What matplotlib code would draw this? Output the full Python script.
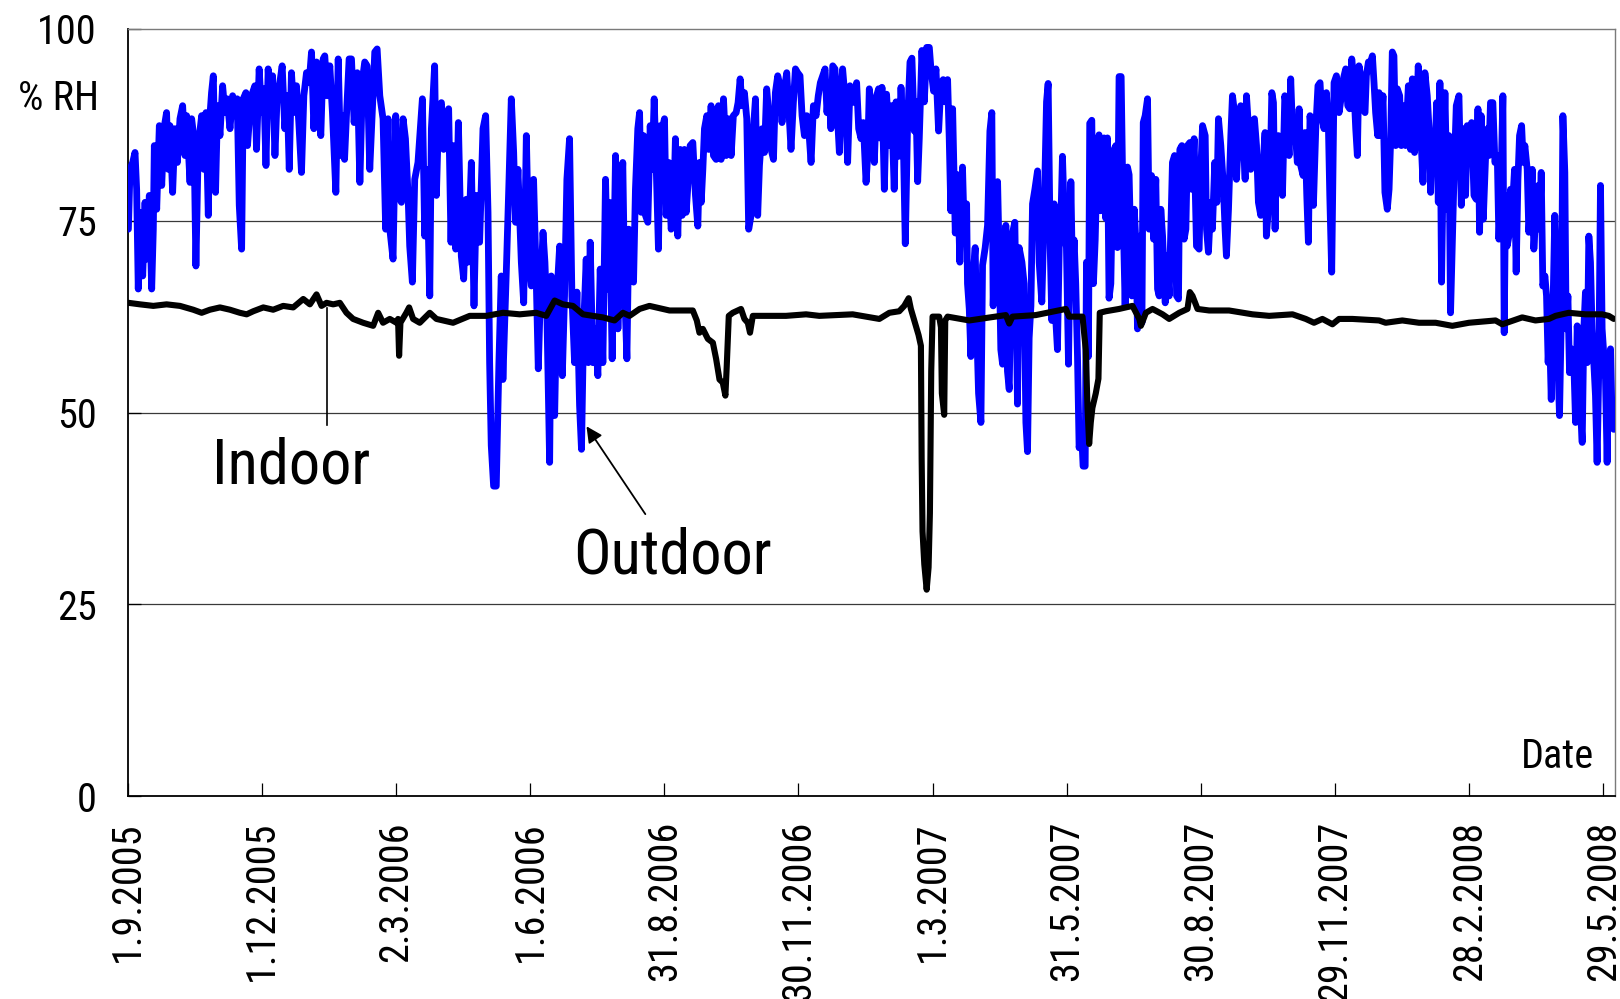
import matplotlib
matplotlib.use('Agg')
import matplotlib.pyplot as plt
from matplotlib import font_manager

# ---------------- data (day 0 = 1.9.2005) ----------------
outdoor_seg1 = [(0.6,73.9),(1.7,81.7),(3.5,82.6),(5.1,83.9),(6.2,79.1),(7.3,66.1),(8.5,76.1),(10.3,67.8),(11.9,77.4),(13.0,70.0),(14.8,78.3),(16.4,66.1),(17.5,73.9),(18.2,84.8),(19.8,76.5),(21.6,87.4),(23.2,79.6),(24.7,87.0),(26.5,89.1),(27.7,81.7),(28.8,87.4),(30.6,78.7),(32.2,87.0),(33.8,82.6),(35.6,88.3),(37.4,90.0),(39.0,83.5),(40.1,88.7),(42.4,80.0),(43.5,88.3),(45.1,85.7),(46.4,69.1),(48.0,84.8),(50.3,88.7),(51.8,81.7),(53.2,89.1),(54.8,75.7),(55.9,88.7),(57.0,91.7),(58.2,93.9),(59.7,78.7),(61.1,90.0),(62.7,86.1),(64.5,92.6),(66.1,89.1),(67.6,90.9),(69.5,87.0),(71.3,91.3),(72.8,88.7),(74.4,90.9),(75.8,77.0),(77.4,71.3),(78.5,90.9),(80.3,91.7),(81.4,84.8),(83.0,89.1),(84.8,91.7),(86.4,92.6),(87.5,84.3),(89.3,94.8),(90.9,89.1),(92.5,92.2),(93.9,82.2),(95.4,94.8),(97.0,89.1),(98.4,93.9),(100.0,83.5),(101.5,91.3),(103.3,93.0),(104.9,95.2),(106.7,87.0),(108.3,91.3),(109.7,81.7),(111.2,94.3),(112.8,89.1),(114.6,92.6),(116.2,87.8),(118.0,81.3),(119.6,91.3),(121.4,94.3),(123.2,93.0),(124.8,97.0),(126.4,87.0),(128.2,95.7),(130.0,88.7),(131.1,86.1),(132.7,96.1),(133.8,96.5),(135.4,91.3),(137.2,95.2),(139.0,89.1),(141.3,78.7),(142.9,96.1),(144.5,83.5),(145.8,88.7),(147.2,83.0),(148.5,88.7),(150.3,96.1),(151.9,96.1),(153.7,87.8),(155.8,94.3),(157.6,80.0),(159.4,93.5),(160.9,95.7),(162.5,95.2),(164.3,81.7),(166.1,89.6),(167.7,97.0),(169.3,97.4),(171.1,91.3)]

outdoor_seg2 = [(173.3,88.3),(175.1,73.9),(176.7,88.3),(177.9,73.9),(180.1,70.0),(181.9,88.7),(183.5,78.3),(185.8,77.4),(186.9,88.3),(188.5,85.7),(190.3,78.3),(191.4,71.7),(193.2,67.0),(194.8,80.4),(197.0,82.6),(200.0,90.9),(201.6,73.0),(203.1,81.7),(205.0,65.2),(206.1,87.0),(208.3,95.2),(209.5,78.3),(211.1,89.6),(212.9,90.4),(214.4,84.3),(216.3,87.0),(217.8,89.6),(219.4,72.2),(220.8,84.8),(222.6,71.3),(224.4,87.8),(226.4,70.4),(228.0,67.4),(229.8,77.8),(230.9,69.6),(233.2,82.6),(235.0,63.9),(236.6,78.3),(238.8,72.2),(241.1,87.0),(242.9,88.7),(244.5,76.1),(245.6,56.5),(246.7,45.7),(248.3,40.4),(250.1,40.4),(251.9,56.5),(253.5,67.8),(254.6,54.3),(256.9,68.3),(258.7,80.0),(260.3,90.9),(261.9,83.9),(263.2,74.8),(264.8,81.7),(267.1,69.6),(268.7,64.3),(270.5,86.1),(272.3,69.6),(273.9,66.5),(275.4,80.4),(277.2,67.4),(278.6,55.7),(280.0,65.2),(281.8,73.5),(283.1,69.6),(284.5,62.2),(286.3,43.5),(287.4,67.8),(288.5,60.9),(289.7,49.6),(291.2,65.2),(293.1,71.7),(294.9,54.8),(296.4,65.2),(298.0,80.4),(299.8,85.7),(301.4,65.2),(303.2,56.5),(304.8,65.7),(306.6,50.9),(307.9,45.2),(309.3,60.9),(311.1,70.0),(312.5,56.5),(313.8,72.2),(315.6,56.5),(317.2,60.9),(319.0,54.8),(320.6,68.7),(322.4,56.5),(324.2,80.4),(325.8,66.1),(326.9,77.4),(328.7,57.0),(331.0,83.5),(332.6,60.9),(334.2,73.9),(335.9,82.6),(337.3,65.2),(338.7,57.0),(340.0,73.9)]

outdoor_seg3 = [(341.6,71.7),(343.2,67.0),(344.5,79.1),(346.1,87.0),(347.3,89.1),(348.4,76.1),(350.0,86.1),(351.3,75.7),(352.9,74.8),(354.5,87.4),(355.8,81.7),(357.2,90.9),(358.5,82.6),(360.1,71.3),(361.3,87.4),(362.6,87.0),(364.2,88.3),(365.3,75.7),(367.1,82.6),(368.7,73.9),(370.3,75.7),(371.6,85.7),(373.2,73.0),(374.8,84.3),(376.2,75.7),(377.7,84.3),(378.9,76.1),(380.5,80.9),(381.6,84.8),(383.4,85.2),(385.2,78.3),(386.8,74.3),(387.9,82.6),(389.1,77.4),(390.2,81.7),(391.3,87.0),(392.9,88.7),(394.2,84.3),(395.8,90.0),(397.4,83.5),(399.2,83.0),(400.8,90.0),(402.6,83.0),(404.2,90.9),(406.0,83.5),(407.8,88.3),(409.4,83.5),(410.9,88.7),(412.8,89.1),(414.1,90.4),(415.5,93.5),(416.8,90.0),(418.4,91.7),(420.0,88.3),(421.3,73.9),(422.9,75.7),(424.5,87.0),(425.9,90.9),(427.4,75.7),(428.6,82.2),(430.4,87.0),(432.0,83.9),(433.5,92.2),(434.9,89.1),(436.5,84.3),(438.1,83.0),(439.4,91.7),(441.0,93.9),(442.1,93.0),(443.9,87.8),(445.5,92.2),(447.1,94.3),(448.5,89.6),(450.0,84.3),(451.6,90.4),(453.0,94.8),(454.5,94.3),(456.1,93.9),(457.5,88.7),(459.1,86.1),(460.7,88.7),(462.0,87.0),(463.6,82.6),(465.2,90.0),(467.0,88.7),(468.5,91.3),(469.9,93.0),(471.5,93.9),(473.1,94.8),(474.4,89.1),(475.6,92.6),(477.1,87.0),(478.3,95.2),(479.8,94.8),(481.2,89.6),(482.8,83.9),(483.9,91.3),(485.0,94.8),(486.9,90.4),(488.4,82.6),(490.0,92.6),(491.8,91.3),(493.2,90.4),(494.5,93.0),(495.9,87.0),(497.5,85.7),(499.0,87.8),(500.9,80.0),(502.0,83.5),(503.1,92.2),(504.7,89.1),(506.5,82.6),(508.1,91.3),(509.4,92.2)]

outdoor_seg4 = [(509.9,85.8),(511.7,92.4),(513.3,79.1),(514.8,91.5),(516.7,84.8),(518.2,90.0),(520.0,79.1),(521.2,90.5),(523.0,83.4),(524.6,92.4),(526.1,86.2),(527.5,72.0),(529.1,88.1),(530.7,95.7),(532.0,96.2),(533.6,86.7),(534.7,90.5),(535.9,80.1),(537.0,85.8),(538.8,97.2),(540.4,90.5),(542.0,97.6),(543.8,97.6),(544.9,94.8),(546.7,91.9),(548.3,94.8),(550.1,86.7),(551.7,92.9),(553.2,93.4),(554.6,90.5),(556.2,93.4),(557.3,85.8),(558.4,76.3),(559.6,89.6),(561.4,73.4),(563.0,81.0),(564.5,69.6),(566.3,82.0),(567.5,73.4),(569.1,77.2),(569.7,66.8),(570.9,63.5),(572.0,57.3),(573.1,66.8),(574.9,71.5),(575.8,62.0),(577.2,52.5),(578.8,48.7),(579.9,69.2),(581.7,71.5),(583.3,74.4),(584.9,86.7),(586.2,89.1),(587.1,63.9),(588.5,73.4),(590.1,80.1),(591.2,70.1),(592.3,58.2),(593.5,56.3),(594.6,66.8),(595.7,74.4),(596.8,55.4),(598.0,53.0),(599.1,66.8),(600.2,73.4),(601.8,74.8),(603.6,51.1),(604.7,71.5),(606.6,69.6),(608.1,66.8),(609.3,48.7),(610.4,44.9),(611.5,59.7),(612.7,63.9),(613.8,77.2),(615.4,79.1),(617.2,81.5),(618.3,69.6),(620.1,64.4),(621.7,76.3),(623.3,90.5),(624.4,92.9),(625.8,71.5),(626.9,62.0),(628.5,77.2),(629.6,62.0),(630.7,58.2),(631.9,71.5),(633.0,74.8),(634.1,83.4),(635.7,73.4),(636.8,71.5),(638.2,56.3),(639.8,80.1),(640.9,67.7),(642.0,72.5),(643.1,66.8),(644.3,57.3),(645.4,45.4),(647.0,47.8),(648.1,43.0),(649.5,43.0),(650.4,69.6),(651.7,57.3),(652.6,87.7),(654.0,88.1),(655.1,66.8),(656.3,72.5),(657.8,84.3),(658.9,86.2),(660.1,76.3),(661.2,80.1),(662.3,85.8),(663.5,75.3),(664.6,85.8),(665.7,64.9),(666.9,66.8),(668.0,79.1),(669.1,84.3),(670.3,84.8),(671.4,71.5),(672.5,93.8),(673.9,93.8),(675.2,76.3),(676.6,63.9),(678.2,82.0),(679.3,81.0)]

outdoor_seg5 = [(681.2,65.2),(682.8,76.5),(683.9,72.2),(685.0,60.9),(686.6,73.0),(688.0,61.7),(688.9,87.8),(690.2,88.7),(691.8,90.9),(692.9,73.9),(694.5,80.9),(695.9,72.6),(697.4,80.4),(698.6,66.1),(699.7,65.2),(700.8,76.5),(702.0,73.0),(703.8,64.3),(704.9,70.4),(706.5,65.2),(707.6,73.9),(708.7,82.6),(710.1,83.5),(711.5,65.2),(712.8,64.8),(713.7,84.3),(715.1,84.8),(716.6,72.6),(717.8,73.9),(718.9,84.8),(720.5,85.2),(721.8,79.1),(723.4,85.7),(725.0,71.7),(726.8,71.3),(727.9,81.3),(729.1,87.4),(730.9,86.1),(731.8,73.9),(733.1,70.9),(734.7,77.4),(735.8,73.9),(737.4,82.6),(738.8,77.4),(739.9,88.3),(741.5,84.8),(743.1,80.0),(744.4,73.9),(745.3,70.4),(746.7,76.5),(748.3,86.1),(749.4,91.3),(750.5,89.6),(752.1,80.4),(753.5,85.7),(755.0,90.0),(756.6,86.1),(758.0,80.4),(758.9,91.3),(760.2,87.4),(761.8,81.7),(763.0,87.8),(764.3,88.3),(765.7,84.8),(767.0,77.4),(768.6,75.7),(770.2,82.6),(771.5,86.5),(772.4,73.0),(773.6,76.1),(774.7,79.1),(776.1,91.7),(777.2,90.4),(778.3,73.9),(779.2,85.7),(780.6,86.1),(782.2,81.7),(783.3,78.3),(784.9,91.3),(786.2,89.6),(787.8,83.5),(788.9,93.5),(790.1,87.0),(791.6,87.8),(793.4,82.6),(794.6,89.6),(795.7,82.2),(797.3,80.9),(798.6,86.5),(799.8,78.3),(800.9,72.2),(802.0,88.7),(803.2,86.1),(804.3,77.0),(805.9,87.0),(807.4,92.6),(808.8,93.0),(809.9,88.7),(811.5,87.0),(813.1,91.7),(814.5,87.0),(815.4,78.3),(816.7,68.3),(818.3,93.0),(819.9,93.9),(821.7,89.1),(823.3,91.3),(824.6,93.5),(826.2,94.8),(827.6,90.0),(828.9,89.6),(830.3,96.1),(831.4,93.9),(833.0,87.0),(834.1,83.5),(835.2,95.2),(836.4,93.9),(837.9,89.6),(839.3,89.1),(840.2,93.9),(841.6,95.7),(843.1,95.7),(844.3,96.5),(845.4,93.0),(846.5,89.1),(847.9,86.1)]

outdoor_seg6 = [(848.8,91.7),(849.9,86.1),(851.5,91.3),(852.8,78.7),(854.4,76.5),(855.6,79.1),(856.7,85.7),(857.8,97.0),(858.9,96.5),(860.1,84.8),(861.2,92.2),(862.8,91.3),(863.9,84.8),(865.7,90.0),(866.8,84.8),(868.7,92.6),(870.2,84.3),(871.4,93.5),(872.9,83.9),(874.1,87.0),(875.4,95.2),(876.3,91.3),(877.5,84.8),(878.6,80.0),(879.9,94.3),(881.5,91.3),(882.7,87.0),(883.8,78.7),(884.9,86.5),(886.5,82.6),(887.9,90.4),(889.0,77.4),(890.1,93.0),(891.2,67.0),(892.1,79.1),(893.5,91.7),(895.1,76.5),(896.2,86.1),(897.3,63.0),(898.5,72.2),(899.6,80.4),(901.2,90.0),(903.0,91.3),(904.6,77.0),(905.9,87.0),(907.5,78.3),(908.6,87.4),(910.2,84.3),(911.6,87.8),(913.2,78.3),(914.7,77.8),(915.9,89.6),(917.0,73.5),(918.1,88.7),(919.5,75.2),(921.1,83.5),(922.4,87.0),(923.3,83.5),(924.4,90.4),(926.0,90.4),(927.4,82.6),(929.0,83.5),(930.1,72.6),(931.5,79.6),(932.8,91.3),(933.7,60.4),(934.6,78.3),(935.7,71.7),(936.9,73.0),(938.0,79.1),(939.1,76.1),(940.7,81.7),(941.8,68.3),(943.0,80.4),(944.1,86.1),(945.5,87.4),(946.6,82.6),(947.7,84.8),(949.3,81.7),(950.4,73.5),(951.6,77.4),(952.7,81.7),(953.8,71.3),(955.4,76.5),(956.8,79.6),(957.7,73.9),(958.8,81.3),(959.9,66.5),(961.3,67.8),(962.4,65.2),(963.5,56.5),(964.4,60.9),(965.6,51.7),(966.7,63.0),(968.0,75.7),(969.0,69.6),(970.1,56.5),(971.2,49.6),(972.6,64.3),(973.5,88.7),(974.8,81.3),(975.7,60.9),(976.9,65.2),(978.0,55.2),(979.3,58.3),(980.9,56.5),(982.1,48.7),(983.2,61.3),(984.3,56.5),(985.4,50.4),(986.6,46.1),(987.7,60.9),(988.8,65.7),(990.0,56.5),(991.1,73.0),(992.2,69.6),(993.3,60.9),(994.5,56.5),(995.6,52.2),(996.7,43.5),(997.9,56.5),(999.0,79.6),(1000.1,60.9),(1001.3,57.4),(1002.4,54.3),(1003.5,43.5),(1004.6,56.5),(1005.8,58.3),(1006.9,48.7),(1008.0,47.8)]

indoor_points = [(0.6,64.3),(8.5,64.1),(17.5,63.9),(26.5,64.1),(35.6,63.9),(44.6,63.4),(50.3,63.0),(55.9,63.4),(62.7,63.7),(69.5,63.4),(76.2,63.0),(80.8,62.8),(85.3,63.2),(92.1,63.7),(98.8,63.4),(105.6,63.9),(112.4,63.7),(119.2,64.8),(123.7,64.1),(128.2,65.4),(131.6,63.9),(135.0,64.3),(139.5,64.1),(144.0,64.3),(148.5,63.0),(153.0,62.2),(159.8,61.7),(166.6,61.3),(170.0,63.0),(173.3,61.7),(177.9,62.2),(182.4,61.7),(183.5,62.2),(184.2,57.4),(185.1,61.7),(189.1,63.0),(191.0,63.7),(193.7,62.2),(198.2,61.7),(205.0,63.0),(209.5,62.2),(220.8,61.7),(232.1,62.6),(243.4,62.6),(254.7,63.0),(266.0,62.8),(277.2,63.0),(284.0,62.6),(289.7,64.6),(295.3,64.1),(302.1,63.9),(308.9,62.8),(322.4,62.4),(330.3,62.0),(336.0,63.0),(340.5,62.6),(347.3,63.5),(354.0,63.9),(367.6,63.3),(383.4,63.3),(386.1,62.0),(387.9,60.4),(390.2,60.9),(393.6,59.6),(397.0,59.1),(399.2,57.0),(401.5,54.3),(403.7,53.9),(405.5,52.2),(406.4,56.0),(407.8,62.6),(410.5,63.0),(416.1,63.5),(418.4,62.2),(420.7,61.7),(422.2,60.4),(424.1,62.6),(433.1,62.6),(446.6,62.6),(460.2,62.8),(469.2,62.6),(491.8,62.8),(509.9,62.2),(516.7,63.0),(523.4,63.2),(526.8,63.9),(529.8,64.9),(531.3,63.5),(533.6,62.0),(536.5,60.1),(538.1,58.7),(538.6,44.0),(539.2,34.5),(540.4,30.2),(542.0,26.9),(543.3,29.8),(544.2,36.9),(545.1,55.4),(546.0,62.5),(550.5,62.5),(551.7,61.1),(552.3,52.5),(553.9,49.7),(554.6,62.0),(556.2,62.5),(570.9,62.0),(588.9,62.5),(595.7,62.7),(598.0,61.6),(600.2,62.5),(616.0,62.7),(636.4,63.5),(638.6,62.5),(647.7,62.5),(649.9,58.2),(651.1,50.6),(652.2,45.9),(653.3,48.7),(654.4,50.6),(656.7,52.5),(658.5,54.4),(659.4,63.0),(663.5,63.2),(672.5,63.5),(681.6,63.9),(686.2,62.2),(687.3,61.3),(690.7,63.0),(695.2,63.5),(702.0,62.8),(706.5,62.2),(713.3,63.0),(718.9,63.5),(720.5,65.7),(722.3,65.2),(725.7,63.5),(733.6,63.3),(747.1,63.3),(763.0,62.8),(774.3,62.6),(790.1,62.8),(799.1,62.2),(804.7,61.7),(810.4,62.2),(817.2,61.5),(821.7,62.2),(830.7,62.2),(848.8,62.0),(853.3,61.7),(864.6,62.0),(875.9,61.7),(887.2,61.7),(898.5,61.3),(909.8,61.7),(927.8,62.0),(932.4,61.5),(945.9,62.4),(954.9,62.0),(964.0,62.2),(968.5,62.6),(977.5,63.0),(988.8,62.8),(1000.1,62.8),(1004.6,62.6),(1008.0,62.2)]

tick_days = [0, 91, 182, 273, 364, 455, 546, 637, 728, 819, 910, 1001]
tick_labels = ['1.9.2005', '1.12.2005', '2.3.2006', '1.6.2006', '31.8.2006', '30.11.2006',
               '1.3.2007', '31.5.2007', '30.8.2007', '29.11.2007', '28.2.2008', '29.5.2008']
y_ticks = [0, 25, 50, 75, 100]


# ---------------- font: prefer a regular-weight narrow / condensed sans ----------------
def _is_regular(f):
    return f.style == 'normal' and str(f.weight) in ('400', 'normal', 'regular', 'book')


def pick_font():
    entries = font_manager.fontManager.ttflist
    wanted = ['Liberation Sans Narrow', 'Arial Narrow', 'Roboto Condensed',
              'Open Sans Condensed', 'Noto Sans Condensed', 'DejaVu Sans Condensed']
    for w in wanted:
        for f in entries:
            if f.name == w and _is_regular(f):
                return f.name, f.stretch, 'normal', True
    for f in entries:
        st = str(f.stretch)
        if _is_regular(f) and st in ('condensed', 'semi-condensed', 'extra-condensed'):
            return f.name, st, 'normal', True
    for f in entries:
        n = f.name.lower()
        if ('narrow' in n or 'condensed' in n) and _is_regular(f):
            return f.name, f.stretch, 'normal', True
    return 'Liberation Sans', 'normal', 'normal', False


fam, stretch, weight, is_narrow = pick_font()
plt.rcParams['font.family'] = [fam, 'DejaVu Sans']
plt.rcParams['font.stretch'] = stretch
plt.rcParams['font.weight'] = weight
scale = 1.0 if is_narrow else 0.84
fs_tick = 29 * scale
fs_big = 45 * scale

fig = plt.figure(figsize=(16.2, 9.99), dpi=100)
ax = fig.add_axes([127.5 / 1620, 1 - 796 / 999, (1614.5 - 127.5) / 1620, (796 - 29) / 999])

outdoor = outdoor_seg1 + outdoor_seg2 + outdoor_seg3 + outdoor_seg4 + outdoor_seg5 + outdoor_seg6
od = [p[0] for p in outdoor]
ov = [p[1] for p in outdoor]
idd = [p[0] for p in indoor_points]
iv = [p[1] for p in indoor_points]

for yv in [25, 50, 75]:
    ax.axhline(yv, color='#3a3a3a', lw=0.9, zorder=1)

ax.plot(od, ov, color='#0000FF', lw=4.9, solid_joinstyle='round', solid_capstyle='round', zorder=3)
ax.plot(idd, iv, color='black', lw=4.4, solid_joinstyle='round', solid_capstyle='round', zorder=4)

ax.set_xlim(0, 1008.5)
ax.set_ylim(0, 100)
ax.set_xticks(tick_days)
ax.set_xticklabels(tick_labels, rotation=90, fontsize=fs_tick)
ax.set_yticks(y_ticks)
ax.set_yticklabels([str(v) for v in y_ticks], fontsize=fs_tick)
ax.tick_params(axis='x', direction='in', length=9.5, width=0.9, pad=18, colors='black')
ax.tick_params(axis='y', direction='in', length=9.5, width=0.9, pad=22, colors='black')

for s in ['left', 'bottom']:
    ax.spines[s].set_color('black')
    ax.spines[s].set_linewidth(1.3)
for s in ['top', 'right']:
    ax.spines[s].set_color('#7a7a7a')
    ax.spines[s].set_linewidth(1.0)

# annotations
ax.plot([135.5, 135.5], [63.6, 48.4], color='black', lw=1.2, zorder=5)
ax.text(57.3, 40.8, 'Indoor', fontsize=fs_big, ha='left', va='baseline')
ax.annotate('', xy=(311.3, 48.2), xytext=(351.2, 36.75),
            arrowprops=dict(arrowstyle='-|>', color='black', lw=1.3, mutation_scale=24,
                            shrinkA=0, shrinkB=0), zorder=6)
ax.text(302.5, 29.0, 'Outdoor', fontsize=fs_big, ha='left', va='baseline')
ax.text(995, 3.65, 'Date', fontsize=fs_tick, ha='right', va='baseline')

fig.text(59 / 1620, 1 - 98 / 999, '% RH', fontsize=fs_tick, ha='center', va='center')

fig.savefig('out.png', dpi=100, facecolor='white')
